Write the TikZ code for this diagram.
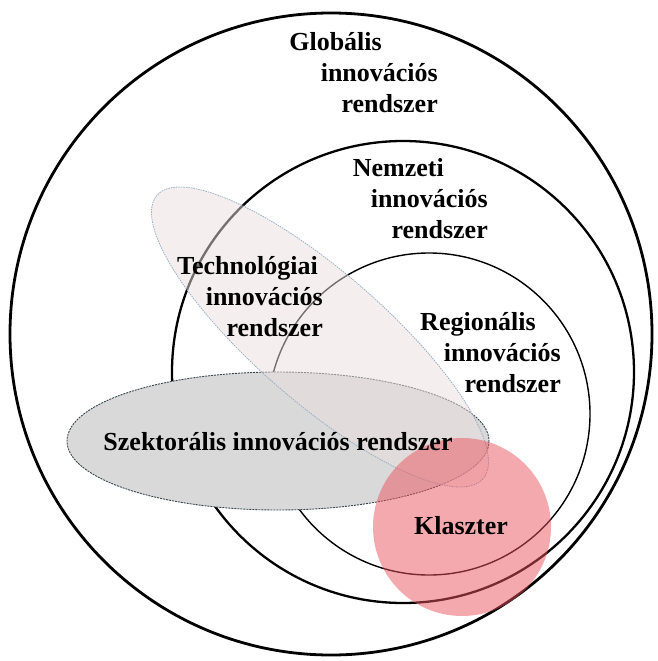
\documentclass[tikz,border=0pt]{standalone}
\usepackage{fontspec}
\setmainfont{Liberation Serif}
\usepackage{tikz}

\definecolor{sektorfill}{RGB}{217,217,217}
\definecolor{sektorline}{RGB}{55,70,78}
\definecolor{techfill}{RGB}{236,222,222}
\definecolor{techline}{RGB}{150,175,195}
\definecolor{klaszterfill}{RGB}{235,85,95}

\begin{document}
\begin{tikzpicture}[x=1pt,y=-1pt,
    label/.style={font=\bfseries\fontsize{26}{31}\selectfont,inner sep=0pt,align=right,anchor=north east},
    rendszer/.style={draw,line width=#1},
    rendszer/.default=1.5pt]
        \fill[white] (0,0) rectangle (657,661);
        \useasboundingbox (0,0) rectangle (657,661);
        \draw[rendszer=2.8pt] (331,334) circle (321);
        \draw[rendszer=2.3pt] (403,372) circle (231);
        \draw[rendszer=1.4pt] (429,414) circle (161);
        \draw[fill=sektorfill,draw=sektorline,line width=0.9pt,dash pattern=on 2pt off 1pt]
            (278,441) ellipse (211 and 69);
        \draw[shift={(320,337)},rotate=-41,fill=techfill,fill opacity=0.5,draw=techline,
            line width=0.8pt,dash pattern=on 1.5pt off 1pt] (0,0) ellipse (216 and 65);
        \fill[klaszterfill,fill opacity=0.5] (462,527) circle (89);
        \node[label] (globalis) at (438,32) {Globális\hspace*{56pt}\\innovációs\\rendszer};
        \node[label] (nemzeti) at (488,158) {Nemzeti\hspace*{44pt}\\innovációs\\rendszer};
        \node[label] (techno) at (323,256) {Technológiai\hspace*{5pt}\\innovációs\\rendszer};
        \node[label] (regio) at (561,312) {Regionális\hspace*{25pt}\\innovációs\\rendszer};
        \node[label,anchor=center] (sektor) at (278,442) {Szektorális innovációs rendszer};
        \node[label,anchor=center] (klaszter) at (461,526) {Klaszter};
      \end{tikzpicture}
\end{document}
